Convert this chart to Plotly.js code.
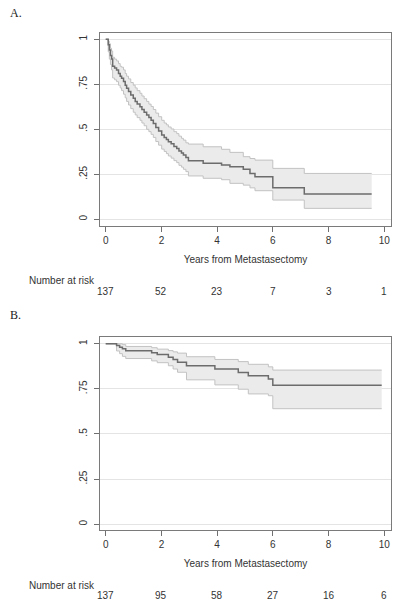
<!DOCTYPE html>
<html>
<head>
<meta charset="utf-8">
<script src="https://cdn.plot.ly/plotly-3.0.1.min.js"></script>
<style>html,body{margin:0;padding:0;background:#fff;}#chart{width:400px;height:608px;}</style>
</head>
<body>
<div id="chart"></div>
<script>
// ---- data ----
const yearTicks = [0, 2, 4, 6, 8, 10];
const survTicks = [0, 0.25, 0.5, 0.75, 1];
const survTickLabels = ["0", ".25", ".5", ".75", "1"];
const panelLabels = ["A.", "B."];
const xTitle = "Years from Metastasectomy";
const riskTitle = "Number at risk";
const riskTimes = [0, 2, 4, 6, 8, 10];

// Panel A
const timeA  = [0, 0.09, 0.13, 0.17, 0.21, 0.25, 0.32, 0.39, 0.46, 0.52, 0.57, 0.64, 0.70, 0.75, 0.82, 0.90, 0.99, 1.06, 1.13, 1.23, 1.30, 1.38, 1.47, 1.55, 1.63, 1.71, 1.80, 1.90, 2.01, 2.10, 2.18, 2.25, 2.35, 2.45, 2.55, 2.63, 2.72, 2.79, 2.88, 2.97, 3.50, 4.16, 4.46, 4.94, 5.18, 5.36, 6.00, 7.13, 9.55];
const survA  = [1, 0.97, 0.94, 0.91, 0.89, 0.85, 0.84, 0.83, 0.81, 0.795, 0.783, 0.765, 0.745, 0.728, 0.71, 0.69, 0.672, 0.655, 0.64, 0.626, 0.61, 0.595, 0.579, 0.565, 0.55, 0.533, 0.51, 0.49, 0.468, 0.455, 0.443, 0.431, 0.42, 0.405, 0.394, 0.38, 0.368, 0.357, 0.343, 0.326, 0.311, 0.302, 0.292, 0.278, 0.255, 0.237, 0.176, 0.141, 0.141];
const upperA = [1, 0.99, 0.975, 0.95, 0.935, 0.90, 0.89, 0.88, 0.865, 0.85, 0.845, 0.83, 0.81, 0.795, 0.78, 0.76, 0.745, 0.73, 0.715, 0.70, 0.685, 0.67, 0.655, 0.64, 0.627, 0.61, 0.59, 0.57, 0.55, 0.535, 0.525, 0.513, 0.502, 0.487, 0.476, 0.462, 0.45, 0.44, 0.425, 0.418, 0.403, 0.389, 0.372, 0.348, 0.338, 0.329, 0.283, 0.255, 0.255];
const lowerA = [1, 0.93, 0.89, 0.86, 0.83, 0.785, 0.775, 0.765, 0.745, 0.73, 0.715, 0.695, 0.675, 0.655, 0.635, 0.615, 0.595, 0.58, 0.565, 0.55, 0.535, 0.52, 0.50, 0.487, 0.472, 0.455, 0.432, 0.412, 0.39, 0.377, 0.365, 0.352, 0.34, 0.326, 0.315, 0.30, 0.29, 0.278, 0.265, 0.241, 0.228, 0.22, 0.20, 0.19, 0.175, 0.159, 0.107, 0.061, 0.061];
const atRiskA = [137, 52, 23, 7, 3, 1];

// Panel B
const timeB  = [0, 0.39, 0.50, 0.60, 0.72, 1.65, 1.85, 2.25, 2.42, 2.58, 2.90, 3.92, 4.76, 5.12, 5.84, 6.00, 9.91];
const survB  = [1, 0.99, 0.98, 0.972, 0.961, 0.95, 0.94, 0.925, 0.912, 0.897, 0.878, 0.86, 0.841, 0.823, 0.804, 0.77, 0.77];
const upperB = [1, 1, 1, 0.995, 0.985, 0.978, 0.97, 0.962, 0.955, 0.948, 0.928, 0.913, 0.901, 0.886, 0.872, 0.854, 0.854];
const lowerB = [1, 0.96, 0.945, 0.93, 0.918, 0.905, 0.895, 0.878, 0.86, 0.842, 0.80, 0.772, 0.748, 0.722, 0.712, 0.64, 0.64];
const atRiskB = [137, 95, 58, 27, 16, 6];

// ---- styling ----
const W = 400, H = 608;
const FONT = "Liberation Sans, Arial, Helvetica, sans-serif";
const lineCol = "#6c6c6c", bandLine = "#c2c2c2", bandFill = "#ebebeb";
const px2x = p => p / W;
const px2y = p => 1 - p / H;

function bandTraces(t, s, lo, hi, xa, ya) {
  return [
    {x: t, y: lo, xaxis: xa, yaxis: ya, type: "scatter", mode: "lines",
     line: {shape: "hv", color: bandLine, width: 1}, hoverinfo: "skip", showlegend: false},
    {x: t, y: hi, xaxis: xa, yaxis: ya, type: "scatter", mode: "lines", fill: "tonexty",
     fillcolor: bandFill, line: {shape: "hv", color: bandLine, width: 1}, hoverinfo: "skip", showlegend: false},
    {x: t, y: s, xaxis: xa, yaxis: ya, type: "scatter", mode: "lines",
     line: {shape: "hv", color: lineCol, width: 1.5}, showlegend: false}
  ];
}

const data = [].concat(
  bandTraces(timeA, survA, lowerA, upperA, "x", "y"),
  bandTraces(timeB, survB, lowerB, upperB, "x2", "y2")
);

const xDomain = [px2x(100), px2x(391)];
function xAxis(anchor) {
  return {
    domain: xDomain, anchor: anchor, range: [-0.205, 10.244],
    tickvals: yearTicks, ticks: "outside", ticklen: 5, tickcolor: "#707070",
    showline: true, mirror: true, linecolor: "#7a7a7a", linewidth: 1,
    showgrid: false, zeroline: false,
    tickfont: {family: FONT, size: 10, color: "#333"},
    title: {text: xTitle, font: {family: FONT, size: 10, color: "#333"}, standoff: 10}
  };
}
function yAxis(anchor, top, bottom, range) {
  return {
    domain: [px2y(bottom), px2y(top)], anchor: anchor, range: range,
    tickvals: survTicks, ticktext: survTickLabels, tickangle: -90,
    ticks: "outside", ticklen: 5, tickcolor: "#707070", ticklabelstandoff: 3,
    showline: true, mirror: true, linecolor: "#7a7a7a", linewidth: 1,
    showgrid: true, gridcolor: "#e4e4e4", gridwidth: 1, zeroline: false,
    tickfont: {family: FONT, size: 10, color: "#333"}
  };
}

const annotations = [];
const labelY = [13, 315];
panelLabels.forEach((lab, i) => annotations.push({
  text: lab, xref: "paper", yref: "paper", x: px2x(8), y: px2y(labelY[i]),
  xanchor: "left", yanchor: "middle", showarrow: false,
  font: {family: "Liberation Serif, Times New Roman, serif", size: 12, color: "#222"}
}));
const riskRows = [
  {vals: atRiskA, xref: "x", titleY: 280, numY: 291},
  {vals: atRiskB, xref: "x2", titleY: 585, numY: 595}
];
riskRows.forEach(r => {
  annotations.push({
    text: riskTitle, xref: "paper", yref: "paper", x: px2x(27), y: px2y(r.titleY),
    xanchor: "left", yanchor: "middle", showarrow: false,
    font: {family: FONT, size: 10, color: "#333"}
  });
  r.vals.forEach((v, i) => annotations.push({
    text: String(v), xref: r.xref, yref: "paper", x: riskTimes[i], y: px2y(r.numY),
    xanchor: "center", yanchor: "middle", showarrow: false,
    font: {family: FONT, size: 10, color: "#333"}
  }));
});

const layout = {
  width: W, height: H,
  margin: {l: 0, r: 0, t: 0, b: 0},
  paper_bgcolor: "#fff", plot_bgcolor: "#fff",
  showlegend: false,
  xaxis: xAxis("y"),
  yaxis: yAxis("x", 33, 226, [-0.037, 1.035]),
  xaxis2: xAxis("y2"),
  yaxis2: yAxis("x2", 336.7, 530, [-0.032, 1.039]),
  annotations: annotations
};

Plotly.newPlot("chart", data, layout, {staticPlot: true, displayModeBar: false});
</script>
</body>
</html>
